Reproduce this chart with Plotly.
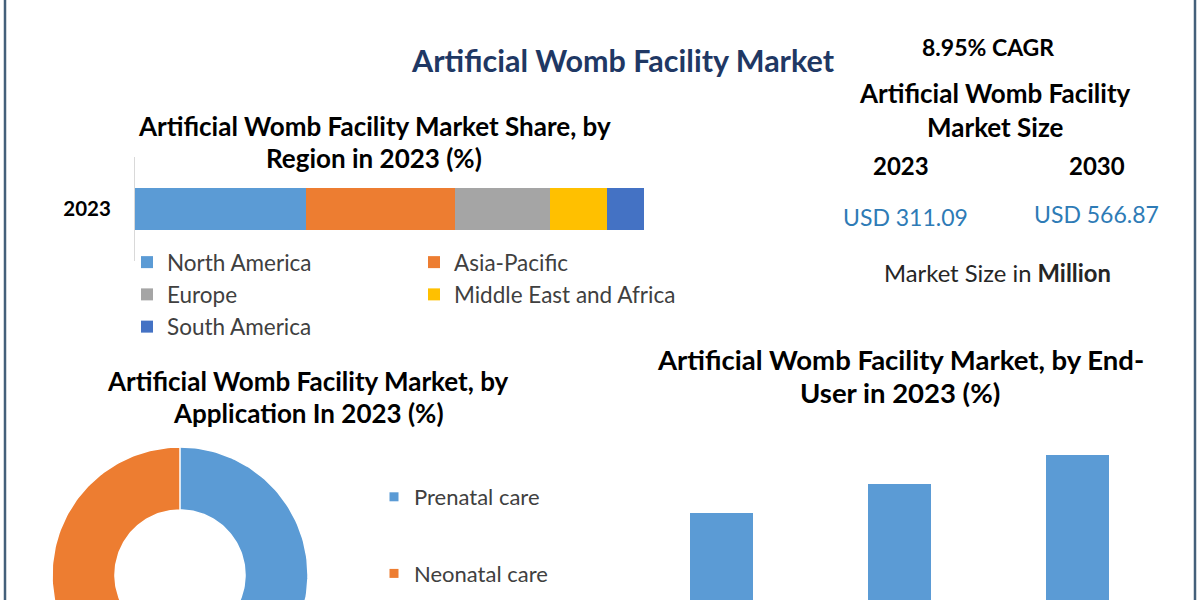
import numpy as np
import plotly.graph_objects as go

# ---------------- data ----------------
regions = ["North America", "Asia-Pacific", "Europe", "Middle East and Africa", "South America"]
region_share = [33.5, 29.3, 18.7, 11.2, 7.3]
region_year = ["2023"]

applications = ["Prenatal care", "Neonatal care"]
application_share = [55.0, 45.0]

end_users = ["Hospitals", "Research Institutes", "Fertility Clinics"]
end_user_share = [28.6, 33.3, 38.1]

size_years = ["2023", "2030"]
market_size = [311.09, 566.87]
cagr = 8.95

# ---------------- style ----------------
W, H = 1200, 600
FONT = "Lato"
region_colors = ["#5B9BD5", "#ED7D31", "#A5A5A5", "#FFC000", "#4472C4"]
app_colors = ["#5B9BD5", "#ED7D31"]
bar_color = "#5B9BD5"


def px(xp):
    return xp / W


def py(yp):
    return 1 - yp / H


fig = go.Figure()

# ---- stacked region bar ----
for i, (name, val) in enumerate(zip(regions, region_share)):
    fig.add_trace(go.Bar(
        y=region_year, x=[val], name=name, orientation="h",
        marker=dict(color=region_colors[i], line=dict(width=0)),
        width=0.41, xaxis="x", yaxis="y",
        legend="legend" if i % 2 == 0 else "legend2",
        legendgroup=name, hoverinfo="name+x",
    ))

# ---- end-user bars ----
fig.add_trace(go.Bar(
    x=end_users, y=end_user_share, marker=dict(color=bar_color, line=dict(width=0)),
    width=0.354, xaxis="x2", yaxis="y2", showlegend=False,
))

# ---- donut (drawn on x3/y3, unit radius) ----
R_OUT, R_IN = 1.0, 0.508
bounds = np.concatenate([[0], np.cumsum(application_share)]) / sum(application_share) * 2 * np.pi
for i, name in enumerate(applications):
    t = np.linspace(bounds[i], bounds[i + 1], 120)
    xs = np.concatenate([R_OUT * np.sin(t), R_IN * np.sin(t[::-1])])
    ys = np.concatenate([R_OUT * np.cos(t), R_IN * np.cos(t[::-1])])
    fig.add_trace(go.Scatter(
        x=xs, y=ys, mode="lines", fill="toself", fillcolor=app_colors[i],
        line=dict(color="white", width=1.5), xaxis="x3", yaxis="y3",
        showlegend=False, hoverinfo="text", text=f"{name}: {application_share[i]}%",
        legendgroup=name,
    ))
    fig.add_trace(go.Scatter(
        x=[None], y=[None], mode="markers", name=name,
        marker=dict(symbol="square", size=9, color=app_colors[i]),
        xaxis="x3", yaxis="y3", legend="legend3", legendgroup=name,
    ))

# ---------------- axes ----------------
hidden = dict(visible=False, showgrid=False, zeroline=False, fixedrange=True)
LEG_FONT = dict(family=FONT, size=22.5, color="#404040")

fig.update_layout(
    width=W, height=H,
    margin=dict(l=0, r=0, t=0, b=0),
    paper_bgcolor="white", plot_bgcolor="white",
    barmode="stack",
    font=dict(family=FONT, color="#262626"),
    xaxis=dict(domain=[px(135), px(644)], range=[0, 100], anchor="y", **hidden),
    yaxis=dict(domain=[py(261), py(157)], anchor="x", type="category",
               showgrid=False, zeroline=False, showline=True, linecolor="#D9D9D9",
               linewidth=1, ticks="", ticklabelstandoff=19,
               tickfont=dict(family=FONT, size=20.5, color="#000000", weight="bold"),
               fixedrange=True),
    xaxis2=dict(domain=[px(632.5), px(1166.5)], anchor="y2", type="category",
                range=[-0.5, 2.5], **hidden),
    yaxis2=dict(domain=[0, py(430)], anchor="x2", range=[14.3, 42.2], **hidden),
    xaxis3=dict(domain=[px(40), px(320)], anchor="y3", range=[-140 / 128, 140 / 128], **hidden),
    yaxis3=dict(domain=[0, py(440)], anchor="x3", range=[-25 / 128, 135 / 128], **hidden),
    legend=dict(x=px(127), y=py(241), xanchor="left", yanchor="top",
                orientation="v", tracegroupgap=0, bgcolor="rgba(0,0,0,0)",
                font=LEG_FONT, itemclick=False),
    legend2=dict(x=px(414), y=py(241), xanchor="left", yanchor="top",
                 orientation="v", tracegroupgap=0, bgcolor="rgba(0,0,0,0)",
                 font=LEG_FONT, itemclick=False),
    legend3=dict(x=px(374), y=py(476), xanchor="left", yanchor="top",
                 orientation="v", tracegroupgap=45, bgcolor="rgba(0,0,0,0)",
                 font=dict(family=FONT, size=22, color="#404040"), itemclick=False),
)

# ---------------- border ----------------
for xb in (5, 1195):
    fig.add_shape(type="line", xref="paper", yref="paper", x0=px(xb), x1=px(xb), y0=0, y1=1,
                  line=dict(color="#44607A", width=2.5))

# ---------------- text ----------------
def label(text, x, y, size, color="#000000", bold=True, family=FONT):
    fig.add_annotation(
        text=f"<b>{text}</b>" if bold else text, x=px(x), y=py(y), xref="paper", yref="paper",
        xanchor="center", yanchor="middle", showarrow=False,
        font=dict(family=family, size=size, color=color),
    )

label("Artificial Womb Facility Market", 623, 60, 30.5, color="#1F3864")
label(f"{cagr}% CAGR", 988, 47, 23)
label("Artificial Womb Facility", 995, 93, 26)
label("Market Size", 995, 127, 26)
label(size_years[0], 901, 165, 24)
label(size_years[1], 1097, 165, 24)
label(f"USD {market_size[0]:.2f}", 905, 217, 23, color="#2E7BB6", bold=False)
label(f"USD {market_size[1]:.2f}", 1096, 214, 23, color="#2E7BB6", bold=False)
label("Market Size in <b>Million</b>", 997, 273, 23.8, color="#262626", bold=False)

label("Artificial Womb Facility Market Share, by", 374, 126, 26)
label(f"Region in {region_year[0]} (%)", 374, 158, 26)
label("Artificial Womb Facility Market, by", 308, 381, 26)
label("Application In 2023 (%)", 308, 413, 26)
label("Artificial Womb Facility Market, by End-", 900, 359, 27.5)
label("User in 2023 (%)", 900, 392, 27.5)

fig.write_html("out.html")
